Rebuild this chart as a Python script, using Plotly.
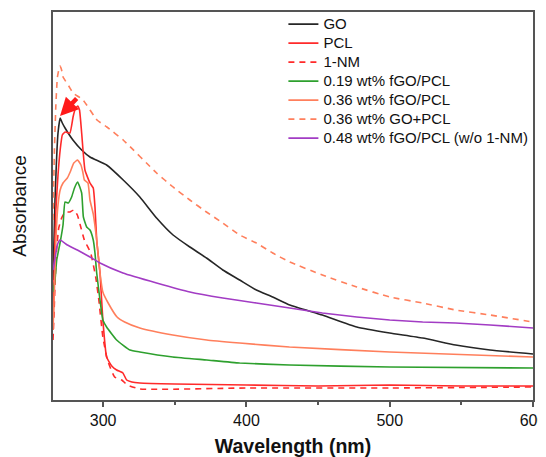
import plotly.graph_objects as go

# ---- data (arbitrary absorbance units) ----
go_wl = [265, 266.4, 268.5, 270, 271.5, 273.4, 278.9, 285, 290.8, 302.4, 314, 325.6, 337.3, 348.8, 360.5,
         372.1, 383.5, 395.3, 406.9, 418.3, 430.2, 453, 477, 500, 523, 546, 570, 600]
go_abs = [1.20, 2.00, 2.67, 2.82, 2.77, 2.72, 2.60, 2.50, 2.43, 2.35, 2.20, 2.03, 1.82, 1.65, 1.53,
          1.42, 1.30, 1.20, 1.10, 1.03, 0.95, 0.85, 0.73, 0.67, 0.62, 0.55, 0.50, 0.46]

pcl_wl = [265, 266, 267, 268.5, 270, 271.5, 273.5, 276.8, 279, 280.5, 282.2, 283.5, 285, 287.3, 290.8,
          293.1, 294.3, 295.5, 297.8, 299.8, 302.4, 306, 309.4, 313.8, 316.4, 320, 325.6, 350, 400,
          450, 500, 550, 600]
pcl_abs = [0.70, 1.40, 1.90, 2.25, 2.50, 2.65, 2.68, 2.67, 2.83, 2.91, 2.94, 2.90, 2.67, 2.30, 2.17,
           2.12, 1.93, 1.60, 1.27, 0.80, 0.43, 0.34, 0.30, 0.27, 0.20, 0.18, 0.17, 0.16, 0.15,
           0.14, 0.15, 0.14, 0.14]

nm_wl = [265, 265.8, 266.5, 267.5, 269, 271, 273.4, 276.8, 279.5, 282, 284, 286.9, 291.3, 294.8, 297,
         299.8, 303, 308, 313, 317, 325.6, 400, 500, 600]
nm_abs = [0.60, 0.90, 1.20, 1.50, 1.72, 1.82, 1.88, 1.88, 1.90, 1.85, 1.75, 1.60, 1.47, 1.23, 1.00,
          0.63, 0.40, 0.23, 0.20, 0.15, 0.11, 0.12, 0.12, 0.13]

f19_wl = [265, 266.4, 267.6, 269.9, 272, 273.4, 275.7, 278, 280, 282.2, 285, 286.2, 288.5, 290.8, 293.1,
          294.3, 295.5, 297.8, 299.8, 302.4, 309.4, 318.7, 325.6, 348.6, 372.3, 395.3, 430, 500, 600]
f19_abs = [1.08, 1.20, 1.40, 1.57, 1.75, 1.98, 1.97, 2.03, 2.12, 2.18, 2.07, 1.83, 1.73, 1.70, 1.60,
           1.47, 1.27, 1.00, 0.80, 0.73, 0.60, 0.50, 0.48, 0.43, 0.40, 0.37, 0.35, 0.33, 0.32]

f36_wl = [265, 266, 267, 268.5, 270, 272, 275, 277, 279.5, 282.2, 284.5, 285.8, 286.9, 289.4, 290.8,
          293.1, 295.5, 297.8, 299.8, 303.5, 309.7, 315, 325.6, 348.6, 372.3, 395.3, 430, 500, 600]
f36_abs = [0.70, 1.10, 1.60, 1.95, 2.10, 2.17, 2.22, 2.28, 2.37, 2.40, 2.35, 2.28, 2.20, 2.17, 2.00,
           1.86, 1.60, 1.27, 1.08, 0.97, 0.83, 0.78, 0.72, 0.65, 0.60, 0.57, 0.53, 0.48, 0.43]

gopcl_wl = [265, 266, 267, 268, 269, 270, 271, 272, 276, 279, 286, 295.7, 302.6, 314, 337.3, 348.8,
            360.5, 372.1, 383.5, 395.3, 406.9, 418.3, 430.2, 453, 477, 500, 523, 546, 570, 600]
gopcl_abs = [1.80, 2.50, 2.95, 3.22, 3.30, 3.34, 3.30, 3.23, 3.14, 3.07, 3.00, 2.80, 2.73, 2.60, 2.27, 2.13,
             2.00, 1.88, 1.77, 1.65, 1.57, 1.47, 1.38, 1.25, 1.13, 1.03, 0.97, 0.90, 0.85, 0.78]

f48_wl = [265, 266.4, 268, 269.9, 275, 282, 290.8, 297.8, 313.8, 337.3, 360.5, 383.5, 406.9, 430.2,
          453, 477, 500, 523, 546, 570, 600]
f48_abs = [1.30, 1.42, 1.55, 1.60, 1.55, 1.50, 1.43, 1.37, 1.27, 1.17, 1.08, 1.02, 0.97, 0.92,
           0.87, 0.83, 0.80, 0.78, 0.77, 0.75, 0.72]

arrow_tail = (282.5, 3.03)
arrow_head = (269.9, 2.84)

series = [
    ("GO", go_wl, go_abs, "#262626", "solid"),
    ("PCL", pcl_wl, pcl_abs, "#ff2a2a", "solid"),
    ("1-NM", nm_wl, nm_abs, "#ff2a2a", "6px,5px"),
    ("0.19 wt% fGO/PCL", f19_wl, f19_abs, "#2ea02e", "solid"),
    ("0.36 wt% fGO/PCL", f36_wl, f36_abs, "#ff7f5c", "solid"),
    ("0.36 wt% GO+PCL", gopcl_wl, gopcl_abs, "#ff7f5c", "6px,5px"),
    ("0.48 wt% fGO/PCL (w/o 1-NM)", f48_wl, f48_abs, "#a23cc4", "solid"),
]

fig = go.Figure()
for name, x, y, color, dash in series:
    fig.add_trace(go.Scatter(x=x, y=y, mode="lines",
                             name='<span style="font-size:15px">' + name + '</span>',
                             line=dict(color=color, width=1.6, dash=dash, shape="spline", smoothing=0.4)))

fig.add_annotation(x=arrow_head[0], y=arrow_head[1], ax=arrow_tail[0], ay=arrow_tail[1],
                   xref="x", yref="y", axref="x", ayref="y", text="", showarrow=True,
                   arrowhead=2, arrowsize=0.8, arrowwidth=4.5, arrowcolor="#ff1a1a")

# the page body adds an 8px margin, so the figure is sized to fit the 546x457 window
font_family = "Liberation Sans, Arial, sans-serif"
fig.update_layout(
    width=538, height=449,
    margin=dict(l=45, r=13, t=4, b=57, autoexpand=False),
    paper_bgcolor="white", plot_bgcolor="white",
    font=dict(family=font_family, size=14, color="#111"),
    showlegend=True,
    legend=dict(x=0.48, y=1.006, xanchor="left", yanchor="top", bgcolor="rgba(0,0,0,0)",
                font=dict(size=12, color="#111"), tracegroupgap=0),
)
fig.update_xaxes(range=[265, 600], tickvals=[300, 400, 500, 600], ticks="outside", ticklen=5,
                 tickwidth=1.5, tickcolor="#555", automargin=False, ticklabeloverflow="allow",
                 minor=dict(tickvals=[350, 450, 550], ticks="outside", ticklen=3, tickwidth=1.5, tickcolor="#555"),
                 showline=True, linecolor="#555", linewidth=1.8, mirror=True, showgrid=False, zeroline=False,
                 tickfont=dict(size=16, color="#111"),
                 title=dict(text="<b>Wavelength (nm)</b>", font=dict(size=19.5, color="#111"), standoff=20))
fig.update_yaxes(range=[0, 3.88], showticklabels=False, ticks="", showline=True, linecolor="#555",
                 linewidth=1.8, mirror=True, showgrid=False, zeroline=False, automargin=False,
                 title=dict(text="Absorbance", font=dict(size=19, color="#111"), standoff=19))

fig.write_html("out.html")
